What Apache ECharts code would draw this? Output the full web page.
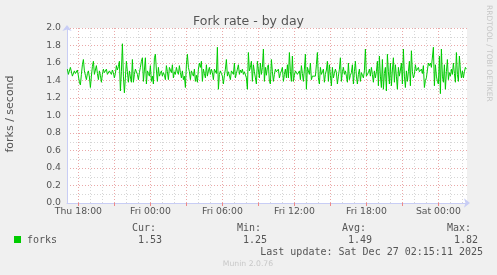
<!DOCTYPE html>
<html>
<head>
<meta charset="utf-8">
<script src="https://cdn.jsdelivr.net/npm/echarts@6/dist/echarts.min.js"></script>
<style>
html,body{margin:0;padding:0;background:#f0f0f0;}
#c{width:497px;height:275px;}
</style>
</head>
<body>
<div id="c"></div>
<script>
// ---- data (5-minute samples, forks/second) ----
const forks = [
1.53,1.47,1.49,1.55,1.53,1.45,1.47,1.51,1.48,1.49,
1.52,1.53,1.38,1.35,1.47,1.58,1.64,1.51,1.46,1.41,
1.48,1.51,1.44,1.32,1.45,1.56,1.62,1.47,1.52,1.57,
1.48,1.41,1.51,1.46,1.38,1.47,1.53,1.49,1.51,1.53,
1.47,1.49,1.51,1.50,1.47,1.52,1.49,1.43,1.48,1.57,
1.52,1.56,1.62,1.28,1.50,1.82,1.45,1.26,1.44,1.62,
1.50,1.38,1.51,1.44,1.38,1.64,1.38,1.47,1.53,1.50,
1.47,1.41,1.49,1.55,1.62,1.66,1.39,1.52,1.66,1.36,
1.51,1.48,1.45,1.57,1.39,1.45,1.36,1.66,1.70,1.52,
1.39,1.55,1.45,1.48,1.51,1.45,1.49,1.46,1.41,1.57,
1.50,1.41,1.55,1.52,1.49,1.58,1.43,1.50,1.47,1.55,
1.50,1.47,1.57,1.49,1.43,1.51,1.41,1.45,1.32,1.58,
1.70,1.55,1.50,1.41,1.51,1.48,1.45,1.53,1.39,1.46,
1.38,1.53,1.60,1.55,1.62,1.39,1.53,1.48,1.43,1.58,
1.45,1.51,1.55,1.47,1.53,1.49,1.41,1.53,1.51,1.48,
1.78,1.30,1.47,1.51,1.48,1.45,1.36,1.46,1.53,1.64,
1.45,1.50,1.49,1.41,1.51,1.49,1.47,1.60,1.43,1.48,
1.53,1.58,1.47,1.52,1.49,1.53,1.47,1.50,1.51,1.43,
1.30,1.72,1.51,1.55,1.62,1.39,1.58,1.50,1.43,1.36,
1.62,1.52,1.43,1.60,1.47,1.55,1.76,1.39,1.55,1.46,
1.55,1.58,1.39,1.36,1.64,1.50,1.39,1.47,1.53,1.50,
1.49,1.53,1.43,1.48,1.51,1.55,1.39,1.47,1.53,1.43,
1.58,1.43,1.72,1.50,1.39,1.68,1.39,1.46,1.51,1.53,
1.47,1.49,1.51,1.41,1.57,1.48,1.39,1.53,1.70,1.30,
1.55,1.51,1.47,1.60,1.41,1.45,1.47,1.43,1.45,1.58,
1.72,1.43,1.36,1.55,1.47,1.50,1.53,1.38,1.47,1.52,
1.62,1.39,1.58,1.46,1.34,1.55,1.43,1.48,1.53,1.49,
1.36,1.45,1.53,1.66,1.39,1.50,1.55,1.47,1.51,1.45,
1.38,1.60,1.41,1.46,1.49,1.58,1.36,1.50,1.62,1.45,
1.36,1.47,1.53,1.39,1.49,1.46,1.43,1.51,1.76,1.45,
1.45,1.49,1.53,1.45,1.55,1.47,1.38,1.51,1.43,1.50,
1.62,1.34,1.68,1.45,1.32,1.64,1.30,1.48,1.55,1.28,
1.70,1.50,1.36,1.60,1.34,1.52,1.66,1.38,1.58,1.45,
1.30,1.55,1.45,1.52,1.60,1.36,1.76,1.45,1.32,1.51,
1.39,1.50,1.62,1.34,1.74,1.50,1.43,1.47,1.58,1.51,
1.53,1.55,1.50,1.52,1.53,1.48,1.57,1.32,1.40,1.43,
1.52,1.60,1.57,1.60,1.55,1.57,1.78,1.34,1.58,1.45,
1.39,1.36,1.68,1.25,1.76,1.45,1.38,1.58,1.30,1.50,
1.64,1.41,1.49,1.45,1.53,1.47,1.60,1.48,1.38,1.72,
1.47,1.39,1.68,1.52,1.43,1.51,1.43,1.50,1.55,1.53
];
// hours since Thu 00:00
const axisStartHour = 17.05;
const axisEndHour = 17.05 + 400 / 12;
const firstSampleHour = 17 + 5 / 60;
const sampleStepHours = 5 / 60;

const labelHours = [18, 24, 30, 36, 42, 48];
const timeLabels = ['Thu 18:00', 'Fri 00:00', 'Fri 06:00', 'Fri 12:00', 'Fri 18:00', 'Sat 00:00'];
const majorGridHours = [18, 21, 24, 27, 30, 33, 36, 39, 42, 45, 48];
const minorGridHours = [19, 20, 22, 23, 25, 26, 28, 29, 31, 32, 34, 35, 37, 38, 40, 41, 43, 44, 46, 47, 49, 50];

const seriesName = 'forks';
const statLabels = ['Cur:', 'Min:', 'Avg:', 'Max:'];
const statValues = ['1.53', '1.25', '1.49', '1.82'];
const titleText = 'Fork rate - by day';
const yAxisName = 'forks / second';
const lastUpdate = 'Last update: Sat Dec 27 02:15:11 2025';
const footer = 'Munin 2.0.76';
const sideText = 'RRDTOOL / TOBI OETIKER';

// ---- chart ----
const points = forks.map((v, i) => [firstSampleHour + i * sampleStepHours, v]);
const MAJOR = '#eaa8a8';
const MINOR = '#d6d6d6';
const AXIS = '#c8cdf5';
const SANS = '"DejaVu Sans", sans-serif';
const MONO = '"DejaVu Sans Mono", monospace';

const statLabelX = [132, 237, 342, 447];
const statValueRight = [162, 267, 372, 478];

const graphics = [
  { type: 'text', x: 10, y: 114, rotation: Math.PI / 2,
    style: { text: yAxisName, font: '11px ' + SANS, fill: '#555', align: 'center', verticalAlign: 'middle' } },
  { type: 'text', x: 489, y: 5, rotation: -Math.PI / 2,
    style: { text: sideText, font: '7.5px ' + SANS, fill: '#c6c6c6', align: 'left', verticalAlign: 'middle' } },
  { type: 'rect', shape: { x: 14, y: 236, width: 7, height: 7 }, style: { fill: '#00cc00' } },
  { type: 'text', x: 27, y: 240,
    style: { text: seriesName, font: '10px ' + MONO, fill: '#555', align: 'left', verticalAlign: 'middle' } },
  { type: 'text', x: 483, y: 252,
    style: { text: lastUpdate, font: '10px ' + MONO, fill: '#555', align: 'right', verticalAlign: 'middle' } },
  { type: 'text', x: 248, y: 264,
    style: { text: footer, font: '7.7px ' + SANS, fill: '#c8c8c8', align: 'center', verticalAlign: 'middle' } }
];
statLabels.forEach((t, i) => {
  graphics.push({ type: 'text', x: statLabelX[i], y: 228,
    style: { text: t, font: '10px ' + MONO, fill: '#555', align: 'left', verticalAlign: 'middle' } });
  graphics.push({ type: 'text', x: statValueRight[i], y: 240,
    style: { text: statValues[i], font: '10px ' + MONO, fill: '#555', align: 'right', verticalAlign: 'middle' } });
});

const chart = echarts.init(document.getElementById('c'), null, { renderer: 'canvas' });
chart.setOption({
  animation: false,
  backgroundColor: '#f0f0f0',
  title: {
    text: titleText, left: 'center', top: 10,
    textStyle: { fontFamily: SANS, fontSize: 12.5, fontWeight: 'normal', color: '#555' }
  },
  grid: { left: 67, top: 28, width: 400, height: 175, show: true, backgroundColor: '#ffffff', borderWidth: 0 },
  xAxis: {
    type: 'value', min: axisStartHour, max: axisEndHour,
    splitLine: { show: false },
    axisLine: { show: true, lineStyle: { color: AXIS, width: 1 }, symbol: ['none', 'arrow'], symbolSize: [7, 6], symbolOffset: [0, 3] },
    axisTick: { show: true, customValues: majorGridHours, length: 3, lineStyle: { color: '#e88' } },
    axisLabel: {
      customValues: labelHours, margin: 4, color: '#555', fontFamily: SANS, fontSize: 9.3,
      formatter: v => { const i = labelHours.indexOf(Math.round(v)); return (i >= 0 && Math.abs(v - Math.round(v)) < 1e-6) ? timeLabels[i] : ''; }
    }
  },
  yAxis: {
    type: 'value', min: 0, max: 2, interval: 0.2,
    axisLine: { show: true, lineStyle: { color: AXIS, width: 1 }, symbol: ['none', 'arrow'], symbolSize: [7, 6], symbolOffset: [0, 3] },
    axisTick: { show: false },
    axisLabel: { margin: 6, color: '#555', fontFamily: SANS, fontSize: 9.3, formatter: v => v.toFixed(1) },
    splitLine: { show: true, lineStyle: { color: MAJOR, type: [1, 2], width: 1 } },
    minorTick: { show: false, splitNumber: 2 },
    minorSplitLine: { show: true, lineStyle: { color: MINOR, type: [1, 2], width: 1 } }
  },
  graphic: graphics,
  series: [
    {
      type: 'line', data: [], silent: true, z: 1,
      markLine: {
        silent: true, symbol: ['none', 'none'], label: { show: false }, z: 1, animation: false,
        data: minorGridHours.map(h => ({ xAxis: h, lineStyle: { color: MINOR, type: [1, 2], width: 1 } }))
          .concat(majorGridHours.map(h => ({ xAxis: h, lineStyle: { color: MAJOR, type: [1, 2], width: 1 } })))
      }
    },
    {
      name: seriesName, type: 'line', data: points, z: 3,
      showSymbol: false, symbol: 'none', sampling: false,
      lineStyle: { color: '#00cc00', width: 1 }, itemStyle: { color: '#00cc00' }
    }
  ]
});
</script>
</body>
</html>
